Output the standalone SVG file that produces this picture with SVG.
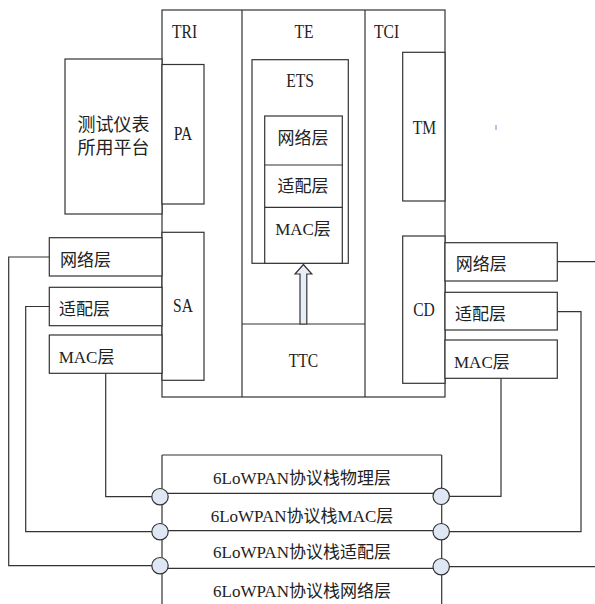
<svg xmlns="http://www.w3.org/2000/svg" width="595" height="604" viewBox="0 0 595 604">
<defs>
<style>
.b{fill:#fff;stroke:#333;stroke-width:1.2}
.n{fill:none;stroke:#333;stroke-width:1.2}
.c{fill:#dfe7f5;stroke:#333;stroke-width:1.2}
text{font-family:"Liberation Serif","Noto Sans CJK SC",serif;font-size:17px;fill:#222}
.lat{font-family:"Liberation Serif",serif;font-size:19px}
.m{text-anchor:middle}
.big{font-size:18px}
</style>
</defs>
<rect width="595" height="604" fill="#fff"/>
<g id="frame">
<rect class="b" x="162" y="10" width="283" height="387"/>
<line class="n" x1="242" y1="10" x2="242" y2="397"/>
<line class="n" x1="365" y1="10" x2="365" y2="397"/>
<text class="lat" transform="translate(172,37.5) scale(0.82,1)">TRI</text>
<text class="lat m" transform="translate(304,37.5) scale(0.82,1)">TE</text>
<text class="lat" transform="translate(374,37.5) scale(0.82,1)">TCI</text>
</g>
<g id="platform">
<rect class="b" x="65" y="59" width="97" height="155"/>
<text class="m big" x="113.5" y="131">测试仪表</text>
<text class="m big" x="113.5" y="154">所用平台</text>
</g>
<g id="PA">
<rect class="b" x="162" y="64.5" width="42" height="139.5"/>
<text class="lat m" transform="translate(183,140) scale(0.82,1)">PA</text>
</g>
<g id="SA">
<rect class="b" x="162" y="232.3" width="42" height="148"/>
<text class="lat m" transform="translate(183,311.7) scale(0.82,1)">SA</text>
</g>
<g id="ETS">
<rect class="b" x="252" y="59.7" width="96.3" height="203.6"/>
<text class="lat m" transform="translate(300,87) scale(0.82,1)">ETS</text>
<rect class="b" x="264.7" y="116" width="77.6" height="147.3"/>
<line class="n" x1="264.7" y1="165" x2="342.3" y2="165"/>
<line class="n" x1="264.7" y1="207.3" x2="342.3" y2="207.3"/>
<text class="m" x="303" y="143.5">网络层</text>
<text class="m" x="303" y="192">适配层</text>
<text class="m" x="303" y="235">MAC层</text>
</g>
<g id="TTC">
<line class="n" x1="242" y1="324" x2="365" y2="324"/>
<text class="lat m" transform="translate(303.5,366.7) scale(0.82,1)">TTC</text>
</g>
<g id="TM">
<rect class="b" x="402.7" y="52.3" width="42.3" height="148.7"/>
<text class="lat m" transform="translate(424.5,134) scale(0.82,1)">TM</text>
</g>
<g id="CD">
<rect class="b" x="402.7" y="236" width="42.3" height="147.3"/>
<text class="lat m" transform="translate(424,315.7) scale(0.82,1)">CD</text>
</g>
<g id="L-net">
<rect class="b" x="49.3" y="237.7" width="112.7" height="38.3"/>
<text x="60" y="265.5">网络层</text>
</g>
<g id="L-adapt">
<rect class="b" x="49.3" y="287.3" width="112.7" height="38.4"/>
<text x="59" y="314.5">适配层</text>
</g>
<g id="L-mac">
<rect class="b" x="49.3" y="335" width="112.7" height="38.3"/>
<text x="58.7" y="363">MAC层</text>
</g>
<g id="R-net">
<rect class="b" x="445" y="242.7" width="112.3" height="38.3"/>
<text x="455.7" y="270">网络层</text>
</g>
<g id="R-adapt">
<rect class="b" x="445" y="292.3" width="112.3" height="37.7"/>
<text x="455" y="320">适配层</text>
</g>
<g id="R-mac">
<rect class="b" x="445" y="340" width="112.3" height="38.3"/>
<text x="454" y="367.5">MAC层</text>
</g>
<g id="stack">
<line class="n" x1="162" y1="455" x2="162" y2="604"/>
<line class="n" x1="441.7" y1="455" x2="441.7" y2="604"/>
<line class="n" x1="162" y1="455" x2="441.7" y2="455"/>
<line class="n" x1="162" y1="493.3" x2="441.7" y2="493.3"/>
<line class="n" x1="162" y1="530.7" x2="441.7" y2="530.7"/>
<line class="n" x1="162" y1="568.3" x2="441.7" y2="568.3"/>
<text class="m" x="302" y="484.3">6LoWPAN协议栈物理层</text>
<text class="m" x="302" y="521.7">6LoWPAN协议栈MAC层</text>
<text class="m" x="302" y="558.3">6LoWPAN协议栈适配层</text>
<text class="m" x="302" y="596.7">6LoWPAN协议栈网络层</text>
</g>
<g id="connectors">
<polygon points="300,324 300,274 295,274 303.4,264.5 311.8,274 306.8,274 306.8,324" fill="#e8eef8" stroke="#333" stroke-width="1.2"/>
<polyline class="n" points="49.3,257 8.7,257 8.7,565.7 160,565.7"/>
<polyline class="n" points="49.3,306.5 25.7,306.5 25.7,531.7 160,531.7"/>
<polyline class="n" points="105.7,373.3 105.7,496.7 160,496.7"/>
<polyline class="n" points="557.3,261.7 595,261.7"/>
<polyline class="n" points="557.3,311.7 581,311.7 581,531.7 441.7,531.7"/>
<polyline class="n" points="501,378.3 501,496.3 441.7,496.3"/>
<line class="n" x1="441.7" y1="566.7" x2="595" y2="566.7"/>
<circle class="c" cx="160" cy="496.7" r="8.2"/>
<circle class="c" cx="160" cy="531.7" r="8.2"/>
<circle class="c" cx="160" cy="565.7" r="8.2"/>
<circle class="c" cx="441.2" cy="496.3" r="8.2"/>
<circle class="c" cx="441.2" cy="531.7" r="8.2"/>
<circle class="c" cx="441.2" cy="566.7" r="8.2"/>
</g>
<line x1="496" y1="125" x2="496" y2="130" stroke="#6a8ad0" stroke-width="1"/>
</svg>
